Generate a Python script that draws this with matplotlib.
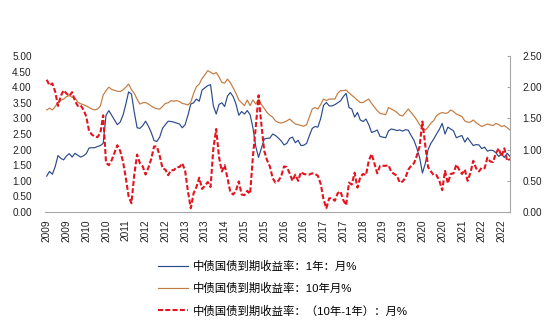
import numpy as np
import pandas as pd
import matplotlib
matplotlib.use("Agg")
import matplotlib.pyplot as plt

plt.rcParams['font.family'] = ['Liberation Sans', 'Noto Sans CJK SC']

# monthly yields, %, starting March 2009
yield_1y = [
    1.15, 1.30, 1.21, 1.45, 1.81, 1.72, 1.67, 1.80, 1.87, 1.76,
    1.88, 1.82, 1.76, 1.80, 1.87, 2.05, 2.06, 2.06, 2.10, 2.13,
    2.20, 3.10, 3.25, 3.10, 2.95, 2.80, 2.88, 3.10, 3.45, 3.85,
    3.78, 3.20, 2.70, 2.68, 2.77, 2.91, 2.75, 2.55, 2.29, 2.26,
    2.40, 2.68, 2.80, 2.91, 2.90, 2.88, 2.85, 2.82, 2.70, 2.80,
    3.10, 3.46, 3.50, 3.62, 3.55, 3.91, 3.98, 4.05, 4.08, 3.40,
    3.14, 3.45, 3.50, 3.38, 3.72, 3.83, 3.70, 3.46, 3.10, 3.22,
    3.14, 3.25, 3.12, 2.70, 2.10, 1.75, 2.05, 2.34, 2.36, 2.37,
    2.50, 2.45, 2.37, 2.28, 2.15, 2.20, 2.36, 2.40, 2.22, 2.30,
    2.13, 2.14, 2.20, 2.45, 2.68, 2.74, 2.72, 3.00, 3.42, 3.51,
    3.40, 3.40, 3.44, 3.50, 3.56, 3.70, 3.80, 3.35, 3.30, 3.04,
    3.19, 2.95, 2.90, 2.98, 2.80, 2.55, 2.58, 2.63, 2.42, 2.40,
    2.38, 2.60, 2.66, 2.64, 2.61, 2.63, 2.59, 2.64, 2.62, 2.45,
    2.30, 2.05, 1.75, 1.25, 1.55, 2.00, 2.20, 2.34, 2.50, 2.65,
    2.84, 2.50, 2.72, 2.66, 2.60, 2.38, 2.42, 2.45, 2.24, 2.38,
    2.25, 2.13, 2.16, 2.15, 2.03, 2.08, 1.95, 1.98, 1.97, 1.90,
    1.78, 1.85, 1.75, 1.88, 1.78,
]
yield_10y = [
    3.27, 3.33, 3.27, 3.38, 3.51, 3.58, 3.62, 3.70, 3.73, 3.68,
    3.66, 3.52, 3.47, 3.44, 3.40, 3.35, 3.30, 3.27, 3.30, 3.40,
    3.75, 3.89, 4.00, 3.93, 3.90, 3.87, 3.86, 3.91, 4.00, 4.10,
    3.92, 3.80, 3.62, 3.46, 3.50, 3.51, 3.46, 3.40, 3.34, 3.31,
    3.30, 3.38, 3.48, 3.50, 3.57, 3.55, 3.57, 3.54, 3.48, 3.46,
    3.43, 3.52, 3.80, 4.02, 4.10, 4.28, 4.40, 4.53, 4.48, 4.42,
    4.47, 4.33, 4.15, 4.13, 4.26, 4.15, 3.98, 3.80, 3.59, 3.50,
    3.41, 3.59, 3.41, 3.59, 3.46, 3.62, 3.45, 3.32, 3.19, 3.10,
    3.04, 2.92, 2.87, 2.85, 2.88, 2.92, 2.98, 2.90, 2.82, 2.80,
    2.77, 2.75, 2.80, 3.05, 3.30, 3.35, 3.30, 3.45, 3.62, 3.57,
    3.62, 3.62, 3.62, 3.80, 3.89, 3.89, 3.91, 3.82, 3.74, 3.67,
    3.58, 3.51, 3.51, 3.57, 3.62, 3.48, 3.36, 3.25, 3.16, 3.14,
    3.12, 3.35, 3.30, 3.25, 3.19, 3.10, 3.08, 3.19, 3.30, 3.19,
    3.08, 2.95, 2.80, 2.70, 2.62, 2.72, 2.85, 2.93, 3.09, 3.15,
    3.19, 3.16, 3.18, 3.27, 3.22, 3.14, 3.10, 3.06, 2.92, 2.88,
    2.88, 2.95, 2.86, 2.80, 2.74, 2.78, 2.82, 2.79, 2.77, 2.84,
    2.80, 2.74, 2.77, 2.70, 2.63,
]
start_month = '2009-03-01'
tick_step = 7

labels = ['中债国债到期收益率：1年：月%',
          '中债国债到期收益率：10年月%',
          '中债国债到期收益率：（10年-1年）：月%']

one = np.array(yield_1y)
ten = np.array(yield_10y)
spread = ten - one
months = pd.date_range(start_month, periods=len(one), freq='MS')
x = np.arange(len(one))

fig = plt.figure(figsize=(5.5, 3.3), dpi=100)
ax = fig.add_axes([45 / 550, 118 / 330, 465 / 550, 156 / 330])
ax2 = ax.twinx()

l1, = ax.plot(x, one, color='#2B4A8A', lw=0.85)
l2, = ax.plot(x, ten, color='#C27A40', lw=0.85)
l3, = ax2.plot(x, spread, color='#E3141E', lw=1.5, dashes=(2.4, 1.1))

ax.set_xlim(-0.6, len(one) - 1)
ax.set_ylim(0, 5)
ax2.set_ylim(0, 2.5)
ax.set_yticks(np.arange(0, 5.01, 0.5))
ax2.set_yticks(np.arange(0, 2.51, 0.5))
ax.yaxis.set_major_formatter(matplotlib.ticker.FormatStrFormatter('%.2f'))
ax2.yaxis.set_major_formatter(matplotlib.ticker.FormatStrFormatter('%.2f'))

ticks = x[::tick_step]
ax.set_xticks(ticks)
ax.set_xticklabels([str(months[i].year) for i in ticks], rotation=90,
                   fontsize=7.3, color='#222222')

for a in (ax, ax2):
    for s in a.spines.values():
        s.set_visible(False)
ax.spines['bottom'].set_visible(True)
ax.spines['bottom'].set_color('#A6A6A6')
ax2.spines['right'].set_visible(True)
ax2.spines['right'].set_color('#A6A6A6')

ax.tick_params(axis='x', length=0, pad=5.5)
ax.tick_params(axis='y', length=0, pad=9.5, labelsize=7.2, labelcolor='#222222')
ax2.tick_params(axis='y', direction='in', length=2.5, color='#A6A6A6',
                pad=9, labelsize=7.2, labelcolor='#222222')

fig.legend([l1, l2, l3], labels, loc='upper left',
           bbox_to_anchor=(158 / 550, 1 - 261 / 330), frameon=False,
           fontsize=8.2, handlelength=2.6, handletextpad=0.5,
           labelspacing=0.95, borderpad=0, borderaxespad=0)

fig.savefig('out.png', dpi=100)
